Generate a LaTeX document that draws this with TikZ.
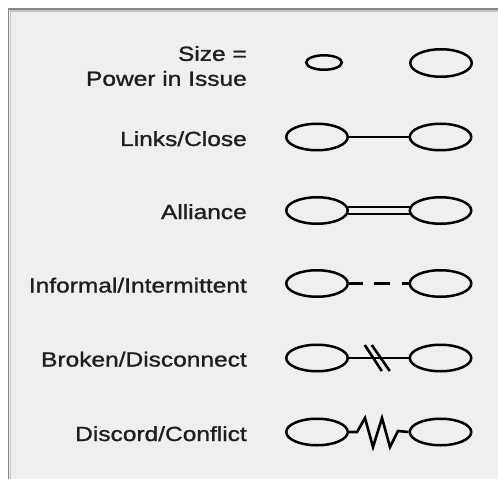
\documentclass[tikz,border=0pt]{standalone}
\usepackage{fontspec}
\setmainfont{Liberation Sans}[FakeStretch=1.2, FakeBold=1.2]
\usetikzlibrary{shapes.geometric,calc}
\definecolor{panel}{HTML}{EFEFEF}
\definecolor{framegray}{HTML}{858585}
\definecolor{shadegray}{HTML}{C4C4C4}
\definecolor{ink}{HTML}{1E1E1E}
\tikzset{
  oval/.style={ellipse, draw=black, line width=2.5bp, inner sep=0pt, minimum width=61.5bp, minimum height=26.5bp},
  smalloval/.style={oval, minimum width=35.5bp, minimum height=14.5bp},
  bigoval/.style={oval, minimum width=61.5bp, minimum height=27.5bp},
  label/.style={font=\fontsize{20.5}{25}\selectfont, text=ink, inner sep=0pt, anchor=base east},
  link/.style={draw=black, line width=2.6bp, line cap=butt}
}
\begin{document}
\begin{tikzpicture}[x=1bp, y=-1bp]
\useasboundingbox (0,0) rectangle (498,479);
\fill[white] (0,0) rectangle (498,479);
\fill[panel] (8,9) rectangle (498,479);
\draw[shadegray, line width=1.5bp] (10.5,479) -- (10.5,11) -- (498,11);
\draw[framegray, line width=1.6bp] (8.5,479) -- (8.5,9) -- (498,9);

% row 1
\node[label, anchor=east, align=right] (t1) at (247,66) {Size =\\Power in Issue};
\node[smalloval] (s1a) at (324,62.5) {};
\node[bigoval] (s1b) at (441,63) {};

% row 2
\node[label] (t2) at (247,146) {Links/Close};
\node[oval] (s2a) at (317,137) {};
\node[oval] (s2b) at (440.5,137) {};
\draw[link] (s2a.east) -- (s2b.west);

% row 3
\node[label] (t3) at (247,219) {Alliance};
\node[oval] (s3a) at (317,210.5) {};
\node[oval] (s3b) at (440.5,210.5) {};
\draw[link, line width=2.4bp, shorten <=-1.5bp, shorten >=-1.5bp] ([yshift=-3.6bp]s3a.east) -- ([yshift=-3.6bp]s3b.west);
\draw[link, line width=2.4bp, shorten <=-1.5bp, shorten >=-1.5bp] ([yshift=3.6bp]s3a.east) -- ([yshift=3.6bp]s3b.west);

% row 4
\node[label] (t4) at (247,292.5) {Informal/Intermittent};
\node[oval] (s4a) at (317,283.5) {};
\node[oval] (s4b) at (440.5,283.5) {};
\draw[link, line width=2.8bp, dash pattern=on 14bp off 11bp on 16bp off 12bp on 12bp] (s4a.east) -- (s4b.west);

% row 5
\node[label] (t5) at (247,366.5) {Broken/Disconnect};
\node[oval] (s5a) at (317,358) {};
\node[oval] (s5b) at (440.5,358) {};
\coordinate (m5) at ($(s5a.east)!0.5!(s5b.west)$);
\draw[link] (s5a.east) -- (s5b.west);
\draw[link] ($(m5)+(-14,-13)$) -- ($(m5)+(3,13)$);
\draw[link] ($(m5)+(-7,-13)$) -- ($(m5)+(11,13)$);

% row 6
\node[label] (t6) at (247,441) {Discord/Conflict};
\node[oval] (s6a) at (317,432) {};
\node[oval] (s6b) at (440.5,432) {};
\draw[link, line join=miter] (s6a.east) -- ($(s6a.east)+(8,0)$) -- ($(s6a.east)+(16,-14)$) -- ($(s6a.east)+(24,15)$)
  -- ($(s6a.east)+(33,-14)$) -- ($(s6a.east)+(41,15)$) -- ($(s6a.east)+(49,-1)$) -- (s6b.west);
\end{tikzpicture}
\end{document}
